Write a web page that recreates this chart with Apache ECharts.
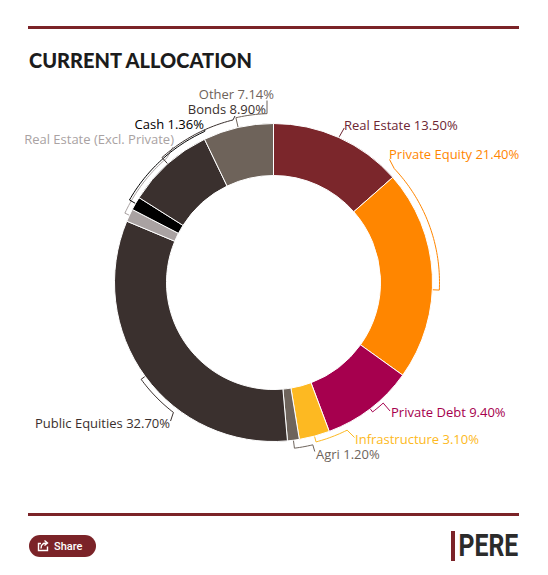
<!DOCTYPE html>
<html><head><meta charset="utf-8">
<script src="https://cdn.jsdelivr.net/npm/echarts@6/dist/echarts.min.js"></script>
<style>html,body{margin:0;padding:0;background:#fff}#c{width:548px;height:575px}</style>
</head><body><div id="c"></div>
<script>
// ---- data ----
const categories = ['Real Estate','Private Equity','Private Debt','Infrastructure','Agri','Public Equities','Real Estate (Excl. Private)','Cash','Bonds','Other'];
const values = [13.50, 21.40, 9.40, 3.10, 1.20, 32.70, 1.30, 1.36, 8.90, 7.14];
const showValue = [true, true, true, true, true, true, false, true, true, true];
const titleText = 'CURRENT ALLOCATION';

// ---- styles ----
const sliceColors = ['#7b262b','#ff8600','#a6004e','#fdb922','#6e645c','#3a302e','#a9a2a2','#000000','#3a302e','#6e635a'];
const textColors  = ['#6d2633','#ff8600','#a6004e','#fdb922','#6e645c','#3a302e','#a9a2a2','#000000','#3a302e','#6e635a'];
const CX = 273.5, CY = 282.5, R0 = 107, R1 = 159;
// label line layout: tick offset from slice mid, arc radius, arc end angle, end offset, text offset
const labelLayout = [
  {tOff:0,   r:160,   a:24.3,  dx:4.9,  dy:-8.7,  tx:-0.2, ty:-3,   align:'left'},
  {tOff:5.5, r:166,   a:46.7,  dx:-4.8, dy:-9.2,  tx:-0.5, ty:-5,   align:'left'},
  {tOff:0,   r:163,   a:137.7, dx:6.8,  dy:7.9,   tx:1,    ty:1,    align:'left'},
  {tOff:0,   r:165,   a:153.5, dx:7.4,  dy:7.3,   tx:0.5,  ty:1.5,  align:'left'},
  {tOff:0,   r:167,   a:166.4, dx:2,    dy:6.7,   tx:1.2,  ty:2.5,  align:'left'},
  {tOff:0,   r:164,   a:217.6, dx:-2.9, dy:8.6,   tx:-0.5, ty:2,    align:'right'},
  {tOff:0,   r:164,   a:319.5, dx:6,    dy:-10.8, tx:1,    ty:-8,   align:'right'},
  {tOff:0,   r:166,   a:335.5, dx:0.3,  dy:-1.9,  tx:-1,   ty:-5.5, align:'right'},
  {tOff:0,   r:167.5, a:346,   dx:2,    dy:-4,    tx:31,   ty:-6.5, align:'right'},
  {tOff:0,   r:169,   a:357.8, dx:0,    dy:-13.1, tx:7,    ty:-6.5, align:'right'}
];

const total = values.reduce((s, v) => s + v, 0);
const midAngles = [];
let acc = 0;
values.forEach(v => { midAngles.push((acc + v / 2) / total * 360); acc += v; });
const labels = categories.map((c, i) => showValue[i] ? c + ' ' + values[i].toFixed(2) + '%' : c);

const chart = echarts.init(document.getElementById('c'), null, {renderer: 'svg'});
chart.setOption({
  animation: false,
  polar: {center: [CX, CY], radius: 200},
  angleAxis: {type: 'value', min: 0, max: 360, startAngle: 90, clockwise: true, show: false},
  radiusAxis: {type: 'value', min: 0, max: 200, show: false},
  graphic: [
    {type: 'rect', shape: {x: 28, y: 26, width: 491, height: 3}, style: {fill: '#7b2328'}},
    {type: 'text', x: 29, y: 60, style: {text: titleText, fill: '#1c1c1c', font: '900 20px Lato', verticalAlign: 'middle'}},
    {type: 'rect', shape: {x: 28, y: 513, width: 491, height: 3}, style: {fill: '#7b2328'}},
    {type: 'rect', shape: {x: 29, y: 535, width: 67, height: 22, r: 11}, style: {fill: '#7b2328'}},
    {type: 'polyline', shape: {points: [[41, 543.5], [38.5, 543.5], [38.5, 550.5], [47.5, 550.5], [47.5, 546.5]]}, style: {stroke: '#fff', lineWidth: 1.4, fill: null}},
    {type: 'polyline', shape: {points: [[41, 548.5], [41.5, 545.5], [43.5, 543.5], [47, 543]]}, style: {stroke: '#fff', lineWidth: 1.4, fill: null}},
    {type: 'polyline', shape: {points: [[44.5, 540.5], [47.5, 543], [44.5, 545.5]]}, style: {stroke: '#fff', lineWidth: 1.4, fill: null}},
    {type: 'text', x: 54, y: 546, style: {text: 'Share', fill: '#fff', font: '500 11px Roboto', verticalAlign: 'middle'}},
    {type: 'rect', shape: {x: 451, y: 531, width: 4, height: 30}, style: {fill: '#7b2328'}},
    {type: 'text', x: 458.5, y: 546, scaleX: 0.8, style: {text: 'PERE', fill: '#2b2b2b', font: 'bold 31px Roboto', verticalAlign: 'middle'}}
  ],
  series: [
    {
      type: 'pie',
      center: [CX, CY],
      radius: [R0, R1],
      startAngle: 90,
      clockwise: true,
      silent: true,
      label: {show: false},
      labelLine: {show: false},
      itemStyle: {borderColor: '#ffffff', borderWidth: 1},
      data: categories.map((c, i) => ({name: c, value: values[i], itemStyle: {color: sliceColors[i]}})),
      z: 2
    },
    {
      type: 'custom',
      coordinateSystem: 'polar',
      silent: true,
      z: 3,
      data: values.map(() => [0, 0]),
      renderItem: function (params, api) {
        const i = params.dataIndex;
        const L = labelLayout[i];
        const t = midAngles[i] + L.tOff;
        const pts = [api.coord([R1 + 0.5, t])];
        const n = Math.max(1, Math.ceil(Math.abs(L.a - t)));
        for (let k = 0; k <= n; k++) pts.push(api.coord([L.r, t + (L.a - t) * k / n]));
        const P = pts[pts.length - 1];
        const T = [P[0] + L.dx, P[1] + L.dy];
        pts.push(T);
        return {
          type: 'group',
          children: [
            {type: 'polyline', shape: {points: pts}, style: {stroke: textColors[i], lineWidth: 1, fill: null}},
            {type: 'text', x: T[0] + L.tx, y: T[1] + L.ty,
             style: {text: labels[i], fill: textColors[i], font: '13px "Open Sans"', lineHeight: 13, align: L.align, verticalAlign: 'middle'}}
          ]
        };
      }
    }
  ]
});
</script>
</body></html>
